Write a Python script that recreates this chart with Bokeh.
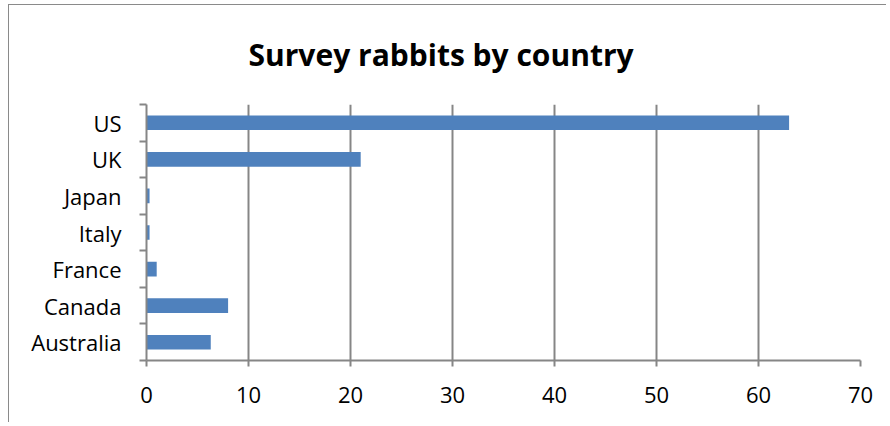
from bokeh.plotting import figure
from bokeh.models import FixedTicker, Range1d, ColumnDataSource
from bokeh.embed import file_html
from bokeh.resources import INLINE

title_text = "Survey rabbits by country"
countries = ["Australia", "Canada", "France", "Italy", "Japan", "UK", "US"]
rabbits = [6.3, 8.0, 1.0, 0.3, 0.3, 21.0, 63.0]
x_ticks = [0, 10, 20, 30, 40, 50, 60, 70]

ypos = [i + 0.5 for i in range(len(countries))]
src = ColumnDataSource(dict(y=ypos, v=rabbits, name=countries))

FONT = "Open Sans"
GRAY = "#868686"

p = figure(width=878, height=418, output_backend="svg", toolbar_location=None,
           x_range=Range1d(0, 70), y_range=Range1d(0, len(countries)),
           min_border_left=137, min_border_right=27, min_border_top=98, min_border_bottom=63,
           title=title_text)

p.hbar(y="y", right="v", left=0, height=0.4, source=src, color="#4F81BD", line_color=None)

p.title.align = "left"
p.title.vertical_align = "top"
p.title.offset = 102
p.title.text_font = FONT
p.title.text_font_size = "30px"
p.title.text_font_style = "bold"
p.title.text_color = "black"
p.title.standoff = 56

p.outline_line_color = None
p.background_fill_color = "white"
p.border_fill_color = "white"
p.styles = {"margin-left": "8px", "margin-top": "4px",
            "border-left": "1px solid #8a8a8a", "border-top": "1px solid #8a8a8a"}

# x axis
p.xaxis.ticker = FixedTicker(ticks=x_ticks)
p.xaxis.axis_line_color = GRAY
p.xaxis.axis_line_width = 2
p.xaxis.major_tick_line_color = GRAY
p.xaxis.major_tick_line_width = 2
p.xaxis.major_tick_out = 6
p.xaxis.major_tick_in = 0
p.xaxis.minor_tick_line_color = None
p.xaxis.major_label_text_font = FONT
p.xaxis.major_label_text_font_size = "22px"
p.xaxis.major_label_text_color = "black"
p.xaxis.major_label_standoff = 20

# y axis
p.yaxis.ticker = FixedTicker(ticks=ypos, minor_ticks=list(range(len(countries) + 1)))
p.yaxis.major_label_overrides = {y: n for y, n in zip(ypos, countries)}
p.yaxis.axis_line_color = GRAY
p.yaxis.axis_line_width = 2
p.yaxis.major_tick_line_color = None
p.yaxis.major_tick_out = 0
p.yaxis.major_tick_in = 0
p.yaxis.minor_tick_line_color = GRAY
p.yaxis.minor_tick_line_width = 2
p.yaxis.minor_tick_out = 7
p.yaxis.minor_tick_in = 0
p.yaxis.major_label_text_font = FONT
p.yaxis.major_label_text_font_size = "22px"
p.yaxis.major_label_text_color = "black"
p.yaxis.major_label_standoff = 18

p.xgrid.ticker = FixedTicker(ticks=x_ticks)
p.xgrid.grid_line_color = GRAY
p.xgrid.grid_line_width = 2
p.ygrid.grid_line_color = None

open("out.html", "w").write(file_html(p, INLINE))
